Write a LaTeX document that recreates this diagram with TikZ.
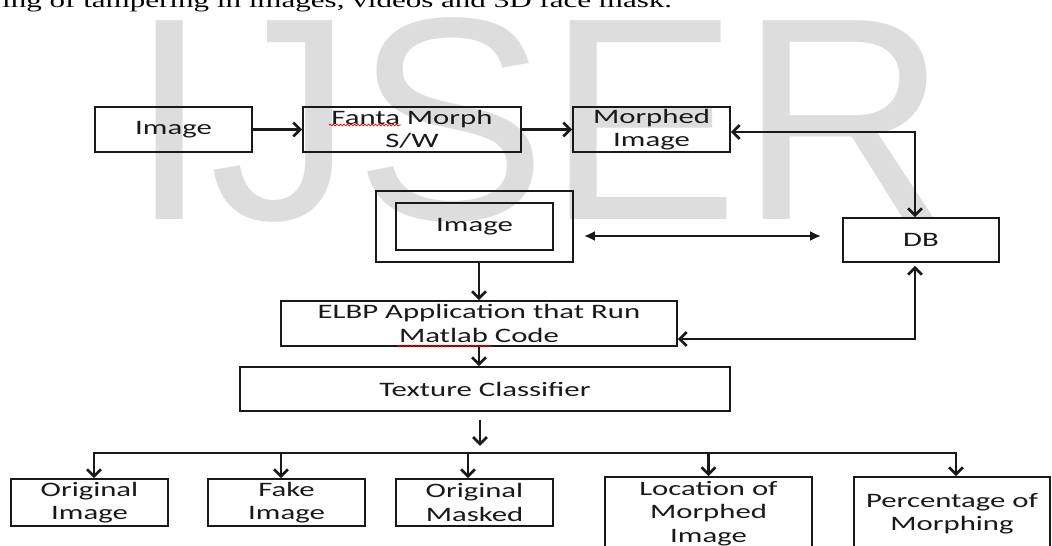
\documentclass[tikz,border=0pt]{standalone}
\usepackage{fontspec}
\setmainfont{Carlito}
\newfontfamily\boxfont{Carlito}[FakeStretch=1.5]
\newfontfamily\wmfont{Liberation Sans}
\newfontfamily\topfont{Liberation Serif}[FakeStretch=1.5]
\usetikzlibrary{arrows.meta,decorations.pathmorphing,calc}
\definecolor{wmgray}{RGB}{221,221,221}
\definecolor{ink}{RGB}{25,25,25}
\begin{document}
\begin{tikzpicture}[x=1pt,y=-1pt,
  box/.style={draw=ink, line width=1.7pt, inner sep=0pt, align=center, text=ink,
    font={\boxfont\fontsize{20.5}{23.5}\selectfont}},
  arr/.style={draw=ink, line width=2.6pt, -{Straight Barb[length=7pt,width=14pt]}},
  darr/.style={draw=ink, line width=2.6pt, {Straight Barb[length=7pt,width=14pt]}-{Straight Barb[length=7pt,width=14pt]}},
  farr/.style={draw=ink, line width=2.4pt, {Latex[length=11pt,width=10pt]}-{Latex[length=11pt,width=10pt]}},
  spell/.style={red, line width=0.7pt, decorate, decoration={snake, segment length=3.5pt, amplitude=0.9pt}}]
\useasboundingbox (0,0) rectangle (1052,546);
\clip (0,0) rectangle (1052,546);
\fill[white] (0,0) rectangle (1052,546);
% watermark and page text
\node[anchor=base west, inner sep=0pt, text=wmgray, font={\wmfont\fontsize{289}{289}\selectfont}] (wm) at (129,219) {IJSER};
\node[anchor=base west, inner sep=0pt, text=black, font={\topfont\fontsize{20.7}{24}\selectfont}] (toptext) at (2,7) {ing of tampering in images, videos and 3D face mask.};
% boxes
\node[box, minimum width=157pt, minimum height=45pt] (img1) at (173.5,129.5) {Image};
\node[box, minimum width=218pt, minimum height=45pt] (fanta) at (412,129.5) {Fanta Morph\\S/W};
\node[box, minimum width=157pt, minimum height=45pt] (morphed) at (651.5,129.5) {Morphed\\Image};
\node[box, minimum width=197pt, minimum height=71pt] (outer) at (474.5,226.5) {};
\node[box, minimum width=157pt, minimum height=47pt] (inner) at (474.5,226.5) {Image};
\node[box, minimum width=156pt, minimum height=44pt] (db) at (921,240) {DB};
\node[box, minimum width=396pt, minimum height=45pt] (elbp) at (479,323.5) {ELBP Application that Run\\Matlab Code};
\node[box, minimum width=490pt, minimum height=44pt] (texture) at (485,389) {Texture Classifier};
\node[box, minimum width=157pt, minimum height=47pt] (o1) at (89.5,502.5) {Original\\Image};
\node[box, minimum width=157pt, minimum height=47pt] (o2) at (286.5,502.5) {Fake\\Image};
\node[box, minimum width=157pt, minimum height=47pt] (o3) at (474.5,502.5) {Original\\Masked};
\node[box, minimum width=207pt, minimum height=73pt] (o4) at (708.5,513.5) {Location of\\Morphed\\Image};
\node[box, minimum width=196pt, minimum height=73pt] (o5) at (952,513.5) {Percentage of\\Morphing};
% spelling underlines
\draw[spell] (329,125) -- (401,125);
\draw[spell] (397,346) -- (492,346);
% connectors
\draw[arr] (img1) -- (fanta);
\draw[arr] (fanta) -- (morphed);
\draw[darr] ([yshift=-2.5pt]morphed.east) -| ([xshift=-6pt]db.north);
\draw[farr] ($(outer.east)+(10,9.5)$) -- ($(db.west)+(-21,-4)$);
\draw[arr] (outer.south -| elbp.north) -- (elbp.north);
\draw[arr] (elbp.south) -- (elbp.south |- texture.north);
\draw[darr, shorten >=3pt] ($(elbp.east)+(0,15.5)$) -| ([xshift=-6pt]db.south);
\coordinate (bus) at ($(texture.south)+(-5,41)$);
\coordinate (d1) at ($(o1.north)+(4.5,0)$);
\coordinate (d2) at ($(o2.north)+(-5.5,0)$);
\coordinate (d3) at ($(o3.north)+(-6.5,0)$);
\coordinate (d4) at (o4.north);
\coordinate (d5) at ($(o5.north)+(4,0)$);
\draw[arr] ($(texture.south)+(-5,8)$) -- ($(bus)+(0,-7)$);
\draw[arr] (bus) -| (d1);
\draw[arr] (bus) -| (d5);
\draw[arr] (bus -| d2) -- (d2);
\draw[arr] (bus -| d3) -- (d3);
\draw[arr] (bus -| d4) -- (d4);
\end{tikzpicture}
\end{document}
